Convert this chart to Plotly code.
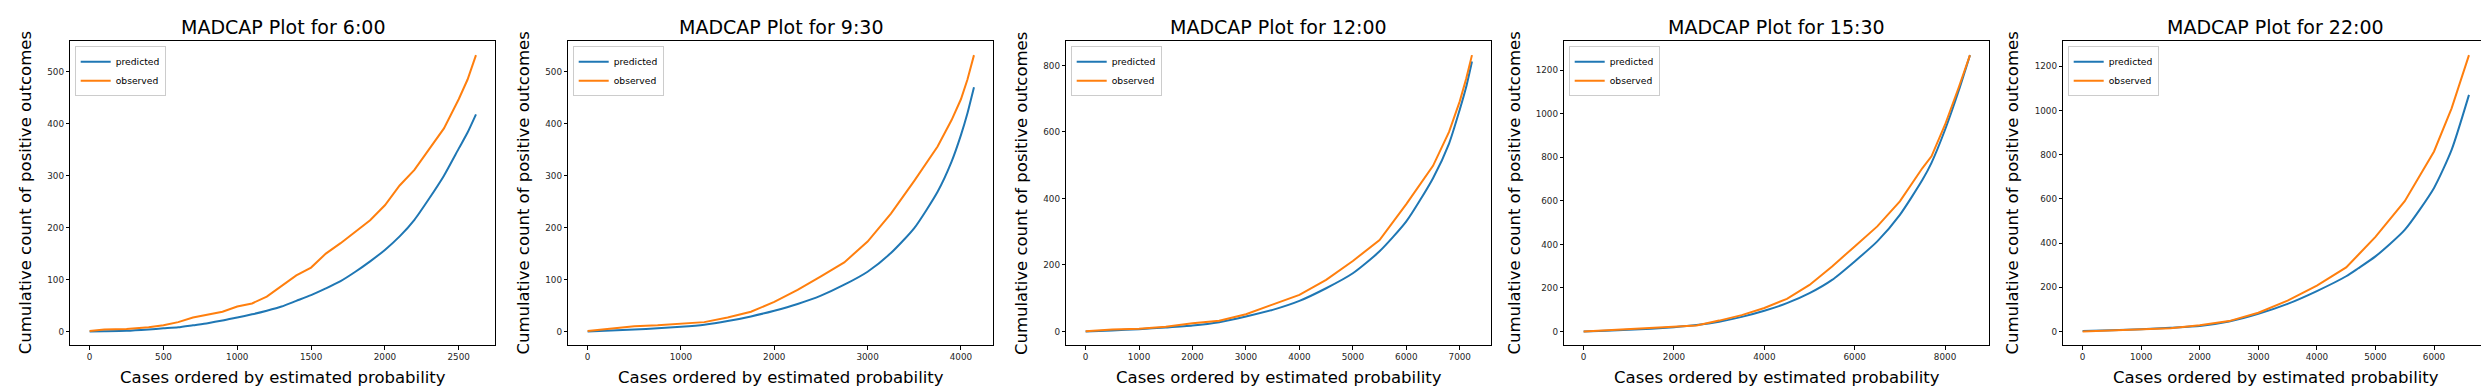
import plotly.graph_objects as go

W, H = 2489, 390

TIMES = ["6:00", "9:30", "12:00", "15:30", "22:00"]

# ---- data ----
X_0600 = [0, 100, 250, 400, 500, 600, 700, 800, 900, 1000, 1100, 1200, 1300, 1400, 1500,
          1600, 1700, 1800, 1900, 2000, 2100, 2200, 2300, 2400, 2500, 2560, 2617]
OBS_0600 = [1, 4, 5, 8, 12, 18, 27, 32, 38, 48, 54, 67, 88, 108, 123,
            150, 170, 192, 214, 243, 281, 311, 350, 391, 447, 485, 532]
PRED_0600 = [0, 0.5, 1.5, 4, 6, 8, 12, 16, 21, 27, 33, 40, 48, 59, 70,
             83, 97, 115, 135, 157, 183, 215, 256, 300, 352, 383, 418]

X_0930 = [0, 250, 500, 750, 1000, 1250, 1500, 1750, 2000, 2250, 2500, 2750, 3000,
          3250, 3500, 3750, 3900, 4000, 4070, 4140]
OBS_0930 = [1, 5, 10, 12, 15, 18, 27, 38, 57, 80, 106, 133, 173,
            227, 290, 356, 407, 447, 485, 532]
PRED_0930 = [0, 2, 4, 6, 9, 13, 20, 29, 40, 53, 69, 90, 115,
             151, 199, 269, 327, 378, 420, 470]

X_1200 = [0, 500, 1000, 1500, 2000, 2500, 3000, 3500, 4000, 4500, 5000, 5500, 6000,
          6500, 6800, 7000, 7120, 7229]
OBS_1200 = [1, 6, 8, 14, 25, 32, 52, 82, 110, 155, 212, 275, 383,
            498, 600, 692, 760, 831]
PRED_1200 = [0, 3, 7, 12, 18, 28, 45, 65, 92, 130, 175, 241, 331,
             461, 565, 667, 735, 812]

X_1530 = [0, 500, 1000, 1500, 2000, 2500, 3000, 3500, 4000, 4500, 5000, 5500, 6000,
          6500, 7000, 7500, 7700, 8000, 8300, 8552]
OBS_1530 = [0, 5, 10, 15, 22, 28, 50, 75, 108, 150, 214, 299, 391,
            483, 598, 751, 805, 950, 1120, 1270]
PRED_1530 = [0, 3, 8, 13, 20, 30, 45, 67, 95, 130, 176, 237, 322,
             414, 536, 697, 775, 927, 1105, 1270]

X_2200 = [0, 500, 1000, 1500, 2000, 2500, 3000, 3500, 4000, 4500, 4700, 5000, 5500,
          6000, 6300, 6597]
OBS_2200 = [0, 5, 10, 15, 28, 47, 85, 140, 208, 290, 345, 428, 590,
            815, 1010, 1251]
PRED_2200 = [2, 6, 10, 17, 25, 45, 80, 125, 183, 250, 285, 340, 460,
             650, 822, 1071]

XS = [X_0600, X_0930, X_1200, X_1530, X_2200]
OBS = [OBS_0600, OBS_0930, OBS_1200, OBS_1530, OBS_2200]
PRED = [PRED_0600, PRED_0930, PRED_1200, PRED_1530, PRED_2200]
X_DTICK = [500, 1000, 1000, 2000, 1000]
Y_DTICK = [100, 100, 200, 200, 200]

# ---- layout geometry (pixels) ----
AX_LEFT = [62.3, 560.3, 1058.3, 1556.3, 2055.3]
AX_W = 425.0
AX_TOP, AX_BOT = 33.3, 337.3
YLAB_X = [17, 515.3, 1013.7, 1506.3, 2004.3]

FONT = "DejaVu Sans"
BLUE, ORANGE = "#1f77b4", "#ff7f0e"

fig = go.Figure()
layout = dict(
    width=W, height=H, margin=dict(l=0, r=0, t=0, b=0),
    paper_bgcolor="white", plot_bgcolor="white",
    font=dict(family=FONT, color="#000000"),
    annotations=[], showlegend=True,
)

ydom = [1 - AX_BOT / H, 1 - AX_TOP / H]
for i in range(5):
    sfx = "" if i == 0 else str(i + 1)
    xa, ya = "x" + sfx, "y" + sfx
    lg = "legend" + sfx
    x = XS[i]
    fig.add_trace(go.Scatter(x=x, y=PRED[i], mode="lines", name="predicted",
                             line=dict(color=BLUE, width=2, shape="spline", smoothing=0.6),
                             xaxis=xa, yaxis=ya, legend=lg))
    fig.add_trace(go.Scatter(x=x, y=OBS[i], mode="lines", name="observed",
                             line=dict(color=ORANGE, width=2),
                             xaxis=xa, yaxis=ya, legend=lg))
    xmin, xmax = min(x), max(x)
    ally = OBS[i] + PRED[i]
    ymin, ymax = min(ally), max(ally)
    dx, dy = 0.05 * (xmax - xmin), 0.05 * (ymax - ymin)
    x0 = AX_LEFT[i] / W
    x1 = (AX_LEFT[i] + AX_W) / W
    common = dict(showline=True, linecolor="black", linewidth=1, mirror=True,
                  ticks="outside", ticklen=3.5, tickwidth=1, tickcolor="black",
                  showgrid=False, zeroline=False,
                  tickfont=dict(family=FONT, size=8.8, color="#262626"))
    layout["xaxis" + sfx] = dict(domain=[x0, x1], range=[xmin - dx, xmax + dx],
                                 tick0=0, dtick=X_DTICK[i], anchor=ya, **common)
    layout["yaxis" + sfx] = dict(domain=ydom, range=[ymin - dy, ymax + dy],
                                 tick0=0, dtick=Y_DTICK[i], anchor=xa, **common)
    layout[lg] = dict(x=x0 + 4.4 / W, y=1 - 38.3 / H, xanchor="left", yanchor="top",
                      bgcolor="white", bordercolor="#cccccc", borderwidth=1,
                      font=dict(family=FONT, size=9.2, color="#000000"),
                      itemwidth=30, tracegroupgap=0)
    cx = (AX_LEFT[i] + AX_W / 2) / W
    layout["annotations"].append(dict(
        text="MADCAP Plot for " + TIMES[i], x=cx, y=1 - 18.5 / H,
        xref="paper", yref="paper", xanchor="center", yanchor="middle",
        showarrow=False, font=dict(family=FONT, size=19, color="#000000")))
    layout["annotations"].append(dict(
        text="Cases ordered by estimated probability", x=cx, y=1 - 369 / H,
        xref="paper", yref="paper", xanchor="center", yanchor="middle",
        showarrow=False, font=dict(family=FONT, size=16.5, color="#000000")))
    layout["annotations"].append(dict(
        text="Cumulative count of positive outcomes", x=YLAB_X[i] / W,
        y=1 - (AX_TOP + AX_BOT) / 2 / H, textangle=-90,
        xref="paper", yref="paper", xanchor="center", yanchor="middle",
        showarrow=False, font=dict(family=FONT, size=16.5, color="#000000")))

fig.update_layout(**layout)
fig.write_html("out.html")
